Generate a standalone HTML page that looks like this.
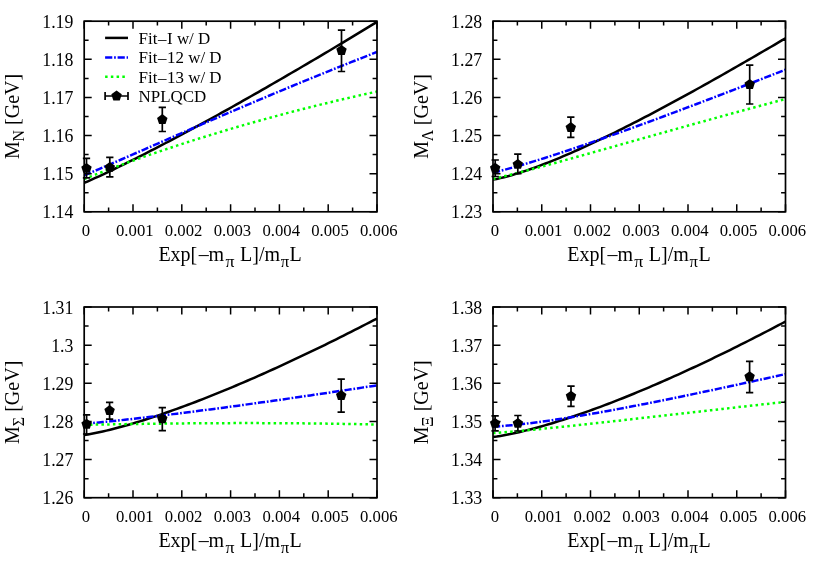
<!DOCTYPE html>
<html><head><meta charset="utf-8"><title>chart</title>
<style>html,body{margin:0;padding:0;background:#fff}svg{display:block;will-change:transform}text{font-family:"Liberation Serif", serif;fill:#000}.t{font-size:17.8px}.x{font-size:16.7px}.l{font-size:16.95px}.a{font-size:20.0px}.s{font-size:15.8px}</style></head><body>
<svg width="817" height="572" viewBox="0 0 817 572">
<rect width="817" height="572" fill="#fff"/>
<g>
<clipPath id="cN"><rect x="84.2" y="21.2" width="292.8" height="190.6"/></clipPath>
<g clip-path="url(#cN)" fill="none" stroke-width="2.5">
<path d="M84.2 182.87 L87.91 181.28 L91.61 179.64 L95.32 177.97 L99.03 176.27 L102.73 174.54 L106.44 172.8 L110.14 171.03 L113.85 169.25 L117.56 167.46 L121.26 165.65 L124.97 163.82 L128.68 161.99 L132.38 160.14 L136.09 158.27 L139.79 156.4 L143.5 154.52 L147.21 152.62 L150.91 150.72 L154.62 148.8 L158.33 146.88 L162.03 144.94 L165.74 143 L169.45 141.05 L173.15 139.09 L176.86 137.12 L180.56 135.14 L184.27 133.16 L187.98 131.17 L191.68 129.17 L195.39 127.16 L199.1 125.15 L202.8 123.13 L206.51 121.1 L210.22 119.06 L213.92 117.02 L217.63 114.97 L221.33 112.92 L225.04 110.86 L228.75 108.79 L232.45 106.72 L236.16 104.64 L239.87 102.56 L243.57 100.46 L247.28 98.37 L250.98 96.27 L254.69 94.16 L258.4 92.05 L262.1 89.93 L265.81 87.8 L269.52 85.67 L273.22 83.54 L276.93 81.4 L280.64 79.26 L284.34 77.11 L288.05 74.95 L291.75 72.79 L295.46 70.63 L299.17 68.46 L302.87 66.29 L306.58 64.11 L310.29 61.93 L313.99 59.74 L317.7 57.55 L321.41 55.36 L325.11 53.16 L328.82 50.95 L332.52 48.74 L336.23 46.53 L339.94 44.31 L343.64 42.09 L347.35 39.87 L351.06 37.64 L354.76 35.41 L358.47 33.17 L362.17 30.93 L365.88 28.68 L369.59 26.43 L373.29 24.18 L377 21.93" stroke="#000"/>
<path d="M84.2 175.33 L87.91 173.81 L91.61 172.25 L95.32 170.69 L99.03 169.11 L102.73 167.52 L106.44 165.92 L110.14 164.32 L113.85 162.71 L117.56 161.1 L121.26 159.49 L124.97 157.88 L128.68 156.26 L132.38 154.64 L136.09 153.02 L139.79 151.4 L143.5 149.78 L147.21 148.16 L150.91 146.53 L154.62 144.91 L158.33 143.29 L162.03 141.67 L165.74 140.05 L169.45 138.43 L173.15 136.82 L176.86 135.2 L180.56 133.58 L184.27 131.97 L187.98 130.36 L191.68 128.75 L195.39 127.14 L199.1 125.53 L202.8 123.93 L206.51 122.33 L210.22 120.73 L213.92 119.13 L217.63 117.53 L221.33 115.94 L225.04 114.35 L228.75 112.76 L232.45 111.18 L236.16 109.6 L239.87 108.02 L243.57 106.44 L247.28 104.87 L250.98 103.3 L254.69 101.73 L258.4 100.16 L262.1 98.6 L265.81 97.04 L269.52 95.49 L273.22 93.94 L276.93 92.39 L280.64 90.84 L284.34 89.3 L288.05 87.77 L291.75 86.23 L295.46 84.7 L299.17 83.17 L302.87 81.65 L306.58 80.13 L310.29 78.61 L313.99 77.1 L317.7 75.59 L321.41 74.09 L325.11 72.59 L328.82 71.09 L332.52 69.6 L336.23 68.11 L339.94 66.62 L343.64 65.14 L347.35 63.66 L351.06 62.19 L354.76 60.72 L358.47 59.26 L362.17 57.8 L365.88 56.34 L369.59 54.89 L373.29 53.44 L377 51.99" stroke="#0000ff" stroke-dasharray="7.2 1.8 1.7 1.8"/>
<path d="M84.2 179 L87.91 177.52 L91.61 176.06 L95.32 174.61 L99.03 173.19 L102.73 171.77 L106.44 170.37 L110.14 168.98 L113.85 167.6 L117.56 166.23 L121.26 164.87 L124.97 163.52 L128.68 162.19 L132.38 160.86 L136.09 159.54 L139.79 158.23 L143.5 156.94 L147.21 155.65 L150.91 154.37 L154.62 153.1 L158.33 151.84 L162.03 150.58 L165.74 149.34 L169.45 148.11 L173.15 146.88 L176.86 145.66 L180.56 144.45 L184.27 143.25 L187.98 142.06 L191.68 140.88 L195.39 139.7 L199.1 138.53 L202.8 137.37 L206.51 136.22 L210.22 135.08 L213.92 133.94 L217.63 132.82 L221.33 131.7 L225.04 130.59 L228.75 129.48 L232.45 128.39 L236.16 127.3 L239.87 126.22 L243.57 125.15 L247.28 124.09 L250.98 123.03 L254.69 121.98 L258.4 120.94 L262.1 119.91 L265.81 118.88 L269.52 117.86 L273.22 116.85 L276.93 115.85 L280.64 114.85 L284.34 113.87 L288.05 112.89 L291.75 111.91 L295.46 110.95 L299.17 109.99 L302.87 109.04 L306.58 108.1 L310.29 107.16 L313.99 106.23 L317.7 105.31 L321.41 104.4 L325.11 103.49 L328.82 102.59 L332.52 101.7 L336.23 100.81 L339.94 99.93 L343.64 99.06 L347.35 98.2 L351.06 97.35 L354.76 96.5 L358.47 95.65 L362.17 94.82 L365.88 93.99 L369.59 93.17 L373.29 92.36 L377 91.55" stroke="#00ff00" stroke-dasharray="2.5 3.24"/>
</g>
<path d="M84.2 211.8 v-7.5 M84.2 21.2 v7.5 M108.6 211.8 v-4.4 M108.6 21.2 v4.4 M133 211.8 v-7.5 M133 21.2 v7.5 M157.4 211.8 v-4.4 M157.4 21.2 v4.4 M181.8 211.8 v-7.5 M181.8 21.2 v7.5 M206.2 211.8 v-4.4 M206.2 21.2 v4.4 M230.6 211.8 v-7.5 M230.6 21.2 v7.5 M255 211.8 v-4.4 M255 21.2 v4.4 M279.4 211.8 v-7.5 M279.4 21.2 v7.5 M303.8 211.8 v-4.4 M303.8 21.2 v4.4 M328.2 211.8 v-7.5 M328.2 21.2 v7.5 M352.6 211.8 v-4.4 M352.6 21.2 v4.4 M377 211.8 v-7.5 M377 21.2 v7.5 M84.2 211.8 h7.5 M377 211.8 h-7.5 M84.2 192.74 h4.4 M377 192.74 h-4.4 M84.2 173.68 h7.5 M377 173.68 h-7.5 M84.2 154.62 h4.4 M377 154.62 h-4.4 M84.2 135.56 h7.5 M377 135.56 h-7.5 M84.2 116.5 h4.4 M377 116.5 h-4.4 M84.2 97.44 h7.5 M377 97.44 h-7.5 M84.2 78.38 h4.4 M377 78.38 h-4.4 M84.2 59.32 h7.5 M377 59.32 h-7.5 M84.2 40.26 h4.4 M377 40.26 h-4.4 M84.2 21.2 h7.5 M377 21.2 h-7.5" stroke="#000" stroke-width="1.5" fill="none"/>
<rect x="84.2" y="21.2" width="292.8" height="190.6" fill="none" stroke="#000" stroke-width="1.7"/>
<path d="M86.5 158.3 V177.9 M82.85 158.3 h7.3 M82.85 177.9 h7.3 M109.8 157.3 V176.9 M106.15 157.3 h7.3 M106.15 176.9 h7.3 M162.3 107.4 V131.5 M158.65 107.4 h7.3 M158.65 131.5 h7.3 M341.5 30.2 V71.5 M337.85 30.2 h7.3 M337.85 71.5 h7.3" stroke="#000" stroke-width="1.7" fill="none"/>
<polygon points="86.5,162.9 91.73,166.7 89.73,172.85 83.27,172.85 81.27,166.7" fill="#000"/>
<polygon points="109.8,161.9 115.03,165.7 113.03,171.85 106.57,171.85 104.57,165.7" fill="#000"/>
<polygon points="162.3,114.1 167.53,117.9 165.53,124.05 159.07,124.05 157.07,117.9" fill="#000"/>
<polygon points="341.5,45 346.73,48.8 344.73,54.95 338.27,54.95 336.27,48.8" fill="#000"/>
<text class="t" x="73.4" y="218.3" text-anchor="end">1.14</text>
<text class="t" x="73.4" y="180.18" text-anchor="end">1.15</text>
<text class="t" x="73.4" y="142.06" text-anchor="end">1.16</text>
<text class="t" x="73.4" y="103.94" text-anchor="end">1.17</text>
<text class="t" x="73.4" y="65.82" text-anchor="end">1.18</text>
<text class="t" x="73.4" y="27.7" text-anchor="end">1.19</text>
<text class="x" x="86" y="235.6" text-anchor="middle">0</text>
<text class="x" x="134.8" y="235.6" text-anchor="middle">0.001</text>
<text class="x" x="183.6" y="235.6" text-anchor="middle">0.002</text>
<text class="x" x="232.4" y="235.6" text-anchor="middle">0.003</text>
<text class="x" x="281.2" y="235.6" text-anchor="middle">0.004</text>
<text class="x" x="330" y="235.6" text-anchor="middle">0.005</text>
<text class="x" x="378.8" y="235.6" text-anchor="middle">0.006</text>
<text class="a" x="158.4" y="260.6">Exp[<tspan dx="1.5">–</tspan><tspan dx="-0.2">m</tspan></text>
<text class="s" x="225.4" y="267.1" textLength="9" lengthAdjust="spacingAndGlyphs">π</text>
<text class="a" x="240" y="260.6">L]/m</text>
<text class="s" x="280.8" y="267.1" textLength="8.4" lengthAdjust="spacingAndGlyphs">π</text>
<text class="a" x="289.6" y="260.6">L</text>
<g transform="translate(19.4 159.1) rotate(-90)">
<text class="a" x="0" y="0">M</text>
<text class="s" x="17.6" y="4.8">N</text>
<text class="a" x="34.2" y="0">[GeV]</text>
</g>
<g fill="none" stroke-width="2.5">
<path d="M105.1 37.9 H128" stroke="#000"/>
<path d="M105.1 57.4 H128" stroke="#0000ff" stroke-dasharray="7.2 1.8 1.7 1.8"/>
<path d="M105.1 76.8 H128" stroke="#00ff00" stroke-dasharray="2.5 3.24"/>
</g>
<path d="M105.1 96 H128 M105.1 92.1 v7.8 M128 92.1 v7.8" stroke="#000" stroke-width="1.7" fill="none"/>
<polygon points="116.55,90.5 121.78,94.3 119.78,100.45 113.32,100.45 111.32,94.3" fill="#000"/>
<text class="l" x="138.6" y="43.7">Fit<tspan dx="0.6">–</tspan><tspan dx="0.5">I</tspan> w/ D</text>
<text class="l" x="138.6" y="63.2">Fit<tspan dx="0.6">–</tspan><tspan dx="0.5">1</tspan>2 w/ D</text>
<text class="l" x="138.6" y="82.6">Fit<tspan dx="0.6">–</tspan><tspan dx="0.5">1</tspan>3 w/ D</text>
<text class="l" x="138.6" y="101.8">NPLQCD</text>
</g>
<g>
<clipPath id="cu039b"><rect x="493" y="21.2" width="292.5" height="190.6"/></clipPath>
<g clip-path="url(#cu039b)" fill="none" stroke-width="2.5">
<path d="M493 179.51 L496.7 178.91 L500.41 178.14 L504.11 177.25 L507.81 176.29 L511.51 175.25 L515.22 174.16 L518.92 173.01 L522.62 171.81 L526.32 170.56 L530.03 169.27 L533.73 167.95 L537.43 166.59 L541.13 165.2 L544.84 163.77 L548.54 162.31 L552.24 160.83 L555.94 159.32 L559.65 157.78 L563.35 156.22 L567.05 154.63 L570.75 153.03 L574.46 151.4 L578.16 149.75 L581.86 148.08 L585.56 146.39 L589.27 144.68 L592.97 142.95 L596.67 141.21 L600.37 139.45 L604.08 137.67 L607.78 135.88 L611.48 134.08 L615.18 132.26 L618.89 130.42 L622.59 128.57 L626.29 126.71 L629.99 124.84 L633.7 122.95 L637.4 121.05 L641.1 119.14 L644.8 117.22 L648.51 115.28 L652.21 113.34 L655.91 111.39 L659.61 109.42 L663.32 107.45 L667.02 105.46 L670.72 103.47 L674.42 101.47 L678.13 99.46 L681.83 97.44 L685.53 95.41 L689.23 93.38 L692.94 91.33 L696.64 89.28 L700.34 87.23 L704.04 85.16 L707.75 83.09 L711.45 81.01 L715.15 78.92 L718.85 76.83 L722.56 74.73 L726.26 72.63 L729.96 70.52 L733.66 68.4 L737.37 66.28 L741.07 64.15 L744.77 62.02 L748.47 59.89 L752.18 57.74 L755.88 55.6 L759.58 53.45 L763.28 51.29 L766.99 49.13 L770.69 46.97 L774.39 44.8 L778.09 42.63 L781.8 40.45 L785.5 38.27" stroke="#000"/>
<path d="M493 172.57 L496.7 171.74 L500.41 170.83 L504.11 169.88 L507.81 168.9 L511.51 167.89 L515.22 166.86 L518.92 165.8 L522.62 164.72 L526.32 163.63 L530.03 162.52 L533.73 161.39 L537.43 160.25 L541.13 159.1 L544.84 157.94 L548.54 156.76 L552.24 155.57 L555.94 154.37 L559.65 153.16 L563.35 151.94 L567.05 150.71 L570.75 149.48 L574.46 148.23 L578.16 146.98 L581.86 145.72 L585.56 144.45 L589.27 143.17 L592.97 141.89 L596.67 140.6 L600.37 139.3 L604.08 138 L607.78 136.69 L611.48 135.38 L615.18 134.06 L618.89 132.74 L622.59 131.41 L626.29 130.07 L629.99 128.74 L633.7 127.39 L637.4 126.04 L641.1 124.69 L644.8 123.34 L648.51 121.97 L652.21 120.61 L655.91 119.24 L659.61 117.87 L663.32 116.49 L667.02 115.11 L670.72 113.73 L674.42 112.35 L678.13 110.96 L681.83 109.57 L685.53 108.17 L689.23 106.77 L692.94 105.37 L696.64 103.97 L700.34 102.56 L704.04 101.16 L707.75 99.75 L711.45 98.33 L715.15 96.92 L718.85 95.5 L722.56 94.08 L726.26 92.66 L729.96 91.24 L733.66 89.81 L737.37 88.39 L741.07 86.96 L744.77 85.53 L748.47 84.1 L752.18 82.66 L755.88 81.23 L759.58 79.79 L763.28 78.35 L766.99 76.91 L770.69 75.47 L774.39 74.03 L778.09 72.59 L781.8 71.14 L785.5 69.7" stroke="#0000ff" stroke-dasharray="7.2 1.8 1.7 1.8"/>
<path d="M493 178.91 L496.7 178.09 L500.41 177.22 L504.11 176.33 L507.81 175.42 L511.51 174.49 L515.22 173.55 L518.92 172.6 L522.62 171.64 L526.32 170.67 L530.03 169.7 L533.73 168.71 L537.43 167.72 L541.13 166.73 L544.84 165.72 L548.54 164.72 L552.24 163.71 L555.94 162.69 L559.65 161.68 L563.35 160.65 L567.05 159.63 L570.75 158.6 L574.46 157.57 L578.16 156.54 L581.86 155.51 L585.56 154.47 L589.27 153.43 L592.97 152.4 L596.67 151.36 L600.37 150.31 L604.08 149.27 L607.78 148.23 L611.48 147.19 L615.18 146.14 L618.89 145.1 L622.59 144.05 L626.29 143.01 L629.99 141.96 L633.7 140.92 L637.4 139.87 L641.1 138.83 L644.8 137.78 L648.51 136.74 L652.21 135.7 L655.91 134.65 L659.61 133.61 L663.32 132.57 L667.02 131.53 L670.72 130.49 L674.42 129.45 L678.13 128.41 L681.83 127.37 L685.53 126.34 L689.23 125.3 L692.94 124.27 L696.64 123.24 L700.34 122.21 L704.04 121.18 L707.75 120.15 L711.45 119.13 L715.15 118.1 L718.85 117.08 L722.56 116.06 L726.26 115.04 L729.96 114.02 L733.66 113.01 L737.37 111.99 L741.07 110.98 L744.77 109.97 L748.47 108.97 L752.18 107.96 L755.88 106.96 L759.58 105.95 L763.28 104.96 L766.99 103.96 L770.69 102.96 L774.39 101.97 L778.09 100.98 L781.8 99.99 L785.5 99.01" stroke="#00ff00" stroke-dasharray="2.5 3.24"/>
</g>
<path d="M493 211.8 v-7.5 M493 21.2 v7.5 M517.38 211.8 v-4.4 M517.38 21.2 v4.4 M541.75 211.8 v-7.5 M541.75 21.2 v7.5 M566.12 211.8 v-4.4 M566.12 21.2 v4.4 M590.5 211.8 v-7.5 M590.5 21.2 v7.5 M614.88 211.8 v-4.4 M614.88 21.2 v4.4 M639.25 211.8 v-7.5 M639.25 21.2 v7.5 M663.62 211.8 v-4.4 M663.62 21.2 v4.4 M688 211.8 v-7.5 M688 21.2 v7.5 M712.38 211.8 v-4.4 M712.38 21.2 v4.4 M736.75 211.8 v-7.5 M736.75 21.2 v7.5 M761.12 211.8 v-4.4 M761.12 21.2 v4.4 M785.5 211.8 v-7.5 M785.5 21.2 v7.5 M493 211.8 h7.5 M785.5 211.8 h-7.5 M493 192.74 h4.4 M785.5 192.74 h-4.4 M493 173.68 h7.5 M785.5 173.68 h-7.5 M493 154.62 h4.4 M785.5 154.62 h-4.4 M493 135.56 h7.5 M785.5 135.56 h-7.5 M493 116.5 h4.4 M785.5 116.5 h-4.4 M493 97.44 h7.5 M785.5 97.44 h-7.5 M493 78.38 h4.4 M785.5 78.38 h-4.4 M493 59.32 h7.5 M785.5 59.32 h-7.5 M493 40.26 h4.4 M785.5 40.26 h-4.4 M493 21.2 h7.5 M785.5 21.2 h-7.5" stroke="#000" stroke-width="1.5" fill="none"/>
<rect x="493" y="21.2" width="292.5" height="190.6" fill="none" stroke="#000" stroke-width="1.7"/>
<path d="M495.2 160 V176.5 M491.55 160 h7.3 M491.55 176.5 h7.3 M517.8 154.1 V173.7 M514.15 154.1 h7.3 M514.15 173.7 h7.3 M570.8 117.2 V137.4 M567.15 117.2 h7.3 M567.15 137.4 h7.3 M749.7 65.2 V104 M746.05 65.2 h7.3 M746.05 104 h7.3" stroke="#000" stroke-width="1.7" fill="none"/>
<polygon points="495.2,162.7 500.43,166.5 498.43,172.65 491.97,172.65 489.97,166.5" fill="#000"/>
<polygon points="517.8,158.9 523.03,162.7 521.03,168.85 514.57,168.85 512.57,162.7" fill="#000"/>
<polygon points="570.8,122.1 576.03,125.9 574.03,132.05 567.57,132.05 565.57,125.9" fill="#000"/>
<polygon points="749.7,79 754.93,82.8 752.93,88.95 746.47,88.95 744.47,82.8" fill="#000"/>
<text class="t" x="482.2" y="218.3" text-anchor="end">1.23</text>
<text class="t" x="482.2" y="180.18" text-anchor="end">1.24</text>
<text class="t" x="482.2" y="142.06" text-anchor="end">1.25</text>
<text class="t" x="482.2" y="103.94" text-anchor="end">1.26</text>
<text class="t" x="482.2" y="65.82" text-anchor="end">1.27</text>
<text class="t" x="482.2" y="27.7" text-anchor="end">1.28</text>
<text class="x" x="494.8" y="235.6" text-anchor="middle">0</text>
<text class="x" x="543.55" y="235.6" text-anchor="middle">0.001</text>
<text class="x" x="592.3" y="235.6" text-anchor="middle">0.002</text>
<text class="x" x="641.05" y="235.6" text-anchor="middle">0.003</text>
<text class="x" x="689.8" y="235.6" text-anchor="middle">0.004</text>
<text class="x" x="738.55" y="235.6" text-anchor="middle">0.005</text>
<text class="x" x="787.3" y="235.6" text-anchor="middle">0.006</text>
<text class="a" x="567.2" y="260.6">Exp[<tspan dx="1.5">–</tspan><tspan dx="-0.2">m</tspan></text>
<text class="s" x="634.2" y="267.1" textLength="9" lengthAdjust="spacingAndGlyphs">π</text>
<text class="a" x="648.8" y="260.6">L]/m</text>
<text class="s" x="689.6" y="267.1" textLength="8.4" lengthAdjust="spacingAndGlyphs">π</text>
<text class="a" x="698.4" y="260.6">L</text>
<g transform="translate(428.2 158.8) rotate(-90)">
<text class="a" x="0" y="0">M</text>
<text class="s" x="17.6" y="4.8">Λ</text>
<text class="a" x="33.6" y="0">[GeV]</text>
</g>
</g>
<g>
<clipPath id="cu03a3"><rect x="84.2" y="307" width="292.8" height="190.7"/></clipPath>
<g clip-path="url(#cu03a3)" fill="none" stroke-width="2.5">
<path d="M84.2 435.03 L87.91 434.49 L91.61 433.83 L95.32 433.1 L99.03 432.32 L102.73 431.49 L106.44 430.62 L110.14 429.71 L113.85 428.77 L117.56 427.79 L121.26 426.78 L124.97 425.75 L128.68 424.69 L132.38 423.6 L136.09 422.48 L139.79 421.35 L143.5 420.19 L147.21 419.01 L150.91 417.81 L154.62 416.59 L158.33 415.34 L162.03 414.08 L165.74 412.8 L169.45 411.51 L173.15 410.19 L176.86 408.86 L180.56 407.51 L184.27 406.15 L187.98 404.77 L191.68 403.37 L195.39 401.96 L199.1 400.53 L202.8 399.09 L206.51 397.64 L210.22 396.17 L213.92 394.68 L217.63 393.19 L221.33 391.68 L225.04 390.15 L228.75 388.62 L232.45 387.07 L236.16 385.51 L239.87 383.94 L243.57 382.35 L247.28 380.75 L250.98 379.15 L254.69 377.53 L258.4 375.89 L262.1 374.25 L265.81 372.6 L269.52 370.93 L273.22 369.26 L276.93 367.57 L280.64 365.88 L284.34 364.17 L288.05 362.45 L291.75 360.73 L295.46 358.99 L299.17 357.24 L302.87 355.49 L306.58 353.72 L310.29 351.95 L313.99 350.16 L317.7 348.37 L321.41 346.57 L325.11 344.76 L328.82 342.94 L332.52 341.11 L336.23 339.27 L339.94 337.42 L343.64 335.57 L347.35 333.7 L351.06 331.83 L354.76 329.95 L358.47 328.06 L362.17 326.16 L365.88 324.26 L369.59 322.34 L373.29 320.42 L377 318.49" stroke="#000"/>
<path d="M84.2 423.75 L87.91 423.44 L91.61 423.12 L95.32 422.78 L99.03 422.43 L102.73 422.07 L106.44 421.71 L110.14 421.33 L113.85 420.95 L117.56 420.56 L121.26 420.16 L124.97 419.76 L128.68 419.36 L132.38 418.94 L136.09 418.53 L139.79 418.1 L143.5 417.68 L147.21 417.25 L150.91 416.81 L154.62 416.37 L158.33 415.93 L162.03 415.49 L165.74 415.04 L169.45 414.58 L173.15 414.13 L176.86 413.67 L180.56 413.2 L184.27 412.74 L187.98 412.27 L191.68 411.79 L195.39 411.32 L199.1 410.84 L202.8 410.36 L206.51 409.87 L210.22 409.39 L213.92 408.9 L217.63 408.41 L221.33 407.91 L225.04 407.41 L228.75 406.91 L232.45 406.41 L236.16 405.91 L239.87 405.4 L243.57 404.89 L247.28 404.38 L250.98 403.87 L254.69 403.36 L258.4 402.84 L262.1 402.32 L265.81 401.8 L269.52 401.28 L273.22 400.75 L276.93 400.22 L280.64 399.69 L284.34 399.16 L288.05 398.63 L291.75 398.1 L295.46 397.56 L299.17 397.02 L302.87 396.48 L306.58 395.94 L310.29 395.4 L313.99 394.85 L317.7 394.31 L321.41 393.76 L325.11 393.21 L328.82 392.66 L332.52 392.1 L336.23 391.55 L339.94 390.99 L343.64 390.44 L347.35 389.88 L351.06 389.32 L354.76 388.76 L358.47 388.19 L362.17 387.63 L365.88 387.06 L369.59 386.49 L373.29 385.92 L377 385.35" stroke="#0000ff" stroke-dasharray="7.2 1.8 1.7 1.8"/>
<path d="M84.2 424.8 L87.91 424.74 L91.61 424.69 L95.32 424.63 L99.03 424.57 L102.73 424.51 L106.44 424.44 L110.14 424.38 L113.85 424.32 L117.56 424.26 L121.26 424.2 L124.97 424.14 L128.68 424.09 L132.38 424.03 L136.09 423.98 L139.79 423.92 L143.5 423.87 L147.21 423.82 L150.91 423.77 L154.62 423.72 L158.33 423.67 L162.03 423.63 L165.74 423.59 L169.45 423.54 L173.15 423.5 L176.86 423.47 L180.56 423.43 L184.27 423.4 L187.98 423.36 L191.68 423.33 L195.39 423.3 L199.1 423.28 L202.8 423.25 L206.51 423.23 L210.22 423.21 L213.92 423.19 L217.63 423.17 L221.33 423.16 L225.04 423.14 L228.75 423.13 L232.45 423.12 L236.16 423.11 L239.87 423.11 L243.57 423.11 L247.28 423.11 L250.98 423.11 L254.69 423.11 L258.4 423.12 L262.1 423.13 L265.81 423.14 L269.52 423.15 L273.22 423.16 L276.93 423.18 L280.64 423.2 L284.34 423.22 L288.05 423.25 L291.75 423.27 L295.46 423.3 L299.17 423.33 L302.87 423.36 L306.58 423.4 L310.29 423.44 L313.99 423.48 L317.7 423.52 L321.41 423.56 L325.11 423.61 L328.82 423.66 L332.52 423.71 L336.23 423.76 L339.94 423.82 L343.64 423.88 L347.35 423.94 L351.06 424 L354.76 424.07 L358.47 424.14 L362.17 424.21 L365.88 424.28 L369.59 424.35 L373.29 424.43 L377 424.51" stroke="#00ff00" stroke-dasharray="2.5 3.24"/>
</g>
<path d="M84.2 497.7 v-7.5 M84.2 307 v7.5 M108.6 497.7 v-4.4 M108.6 307 v4.4 M133 497.7 v-7.5 M133 307 v7.5 M157.4 497.7 v-4.4 M157.4 307 v4.4 M181.8 497.7 v-7.5 M181.8 307 v7.5 M206.2 497.7 v-4.4 M206.2 307 v4.4 M230.6 497.7 v-7.5 M230.6 307 v7.5 M255 497.7 v-4.4 M255 307 v4.4 M279.4 497.7 v-7.5 M279.4 307 v7.5 M303.8 497.7 v-4.4 M303.8 307 v4.4 M328.2 497.7 v-7.5 M328.2 307 v7.5 M352.6 497.7 v-4.4 M352.6 307 v4.4 M377 497.7 v-7.5 M377 307 v7.5 M84.2 497.7 h7.5 M377 497.7 h-7.5 M84.2 478.63 h4.4 M377 478.63 h-4.4 M84.2 459.56 h7.5 M377 459.56 h-7.5 M84.2 440.49 h4.4 M377 440.49 h-4.4 M84.2 421.42 h7.5 M377 421.42 h-7.5 M84.2 402.35 h4.4 M377 402.35 h-4.4 M84.2 383.28 h7.5 M377 383.28 h-7.5 M84.2 364.21 h4.4 M377 364.21 h-4.4 M84.2 345.14 h7.5 M377 345.14 h-7.5 M84.2 326.07 h4.4 M377 326.07 h-4.4 M84.2 307 h7.5 M377 307 h-7.5" stroke="#000" stroke-width="1.5" fill="none"/>
<rect x="84.2" y="307" width="292.8" height="190.7" fill="none" stroke="#000" stroke-width="1.7"/>
<path d="M86.6 414.8 V434 M82.95 414.8 h7.3 M82.95 434 h7.3 M109.6 402.3 V419.2 M105.95 402.3 h7.3 M105.95 419.2 h7.3 M162.3 407.6 V430.6 M158.65 407.6 h7.3 M158.65 430.6 h7.3 M341.2 379.1 V412.2 M337.55 379.1 h7.3 M337.55 412.2 h7.3" stroke="#000" stroke-width="1.7" fill="none"/>
<polygon points="86.6,418.8 91.83,422.6 89.83,428.75 83.37,428.75 81.37,422.6" fill="#000"/>
<polygon points="109.6,405.1 114.83,408.9 112.83,415.05 106.37,415.05 104.37,408.9" fill="#000"/>
<polygon points="162.3,413.2 167.53,417 165.53,423.15 159.07,423.15 157.07,417" fill="#000"/>
<polygon points="341.2,390.1 346.43,393.9 344.43,400.05 337.97,400.05 335.97,393.9" fill="#000"/>
<text class="t" x="73.4" y="504.2" text-anchor="end">1.26</text>
<text class="t" x="73.4" y="466.06" text-anchor="end">1.27</text>
<text class="t" x="73.4" y="427.92" text-anchor="end">1.28</text>
<text class="t" x="73.4" y="389.78" text-anchor="end">1.29</text>
<text class="t" x="73.4" y="351.64" text-anchor="end">1.3</text>
<text class="t" x="73.4" y="313.5" text-anchor="end">1.31</text>
<text class="x" x="86" y="521.5" text-anchor="middle">0</text>
<text class="x" x="134.8" y="521.5" text-anchor="middle">0.001</text>
<text class="x" x="183.6" y="521.5" text-anchor="middle">0.002</text>
<text class="x" x="232.4" y="521.5" text-anchor="middle">0.003</text>
<text class="x" x="281.2" y="521.5" text-anchor="middle">0.004</text>
<text class="x" x="330" y="521.5" text-anchor="middle">0.005</text>
<text class="x" x="378.8" y="521.5" text-anchor="middle">0.006</text>
<text class="a" x="158.4" y="546.5">Exp[<tspan dx="1.5">–</tspan><tspan dx="-0.2">m</tspan></text>
<text class="s" x="225.4" y="553" textLength="9" lengthAdjust="spacingAndGlyphs">π</text>
<text class="a" x="240" y="546.5">L]/m</text>
<text class="s" x="280.8" y="553" textLength="8.4" lengthAdjust="spacingAndGlyphs">π</text>
<text class="a" x="289.6" y="546.5">L</text>
<g transform="translate(19.4 443.93) rotate(-90)">
<text class="a" x="0" y="0">M</text>
<text class="s" x="17.6" y="4.8">Σ</text>
<text class="a" x="32.15" y="0">[GeV]</text>
</g>
</g>
<g>
<clipPath id="cu039e"><rect x="493" y="307" width="292.5" height="190.7"/></clipPath>
<g clip-path="url(#cu039e)" fill="none" stroke-width="2.5">
<path d="M493 436.93 L496.7 436.48 L500.41 435.92 L504.11 435.28 L507.81 434.58 L511.51 433.83 L515.22 433.03 L518.92 432.19 L522.62 431.31 L526.32 430.4 L530.03 429.45 L533.73 428.48 L537.43 427.47 L541.13 426.44 L544.84 425.38 L548.54 424.29 L552.24 423.18 L555.94 422.04 L559.65 420.88 L563.35 419.7 L567.05 418.5 L570.75 417.28 L574.46 416.03 L578.16 414.77 L581.86 413.49 L585.56 412.18 L589.27 410.86 L592.97 409.53 L596.67 408.17 L600.37 406.8 L604.08 405.41 L607.78 404 L611.48 402.58 L615.18 401.14 L618.89 399.69 L622.59 398.22 L626.29 396.74 L629.99 395.24 L633.7 393.73 L637.4 392.2 L641.1 390.66 L644.8 389.11 L648.51 387.54 L652.21 385.96 L655.91 384.37 L659.61 382.76 L663.32 381.14 L667.02 379.51 L670.72 377.87 L674.42 376.21 L678.13 374.54 L681.83 372.86 L685.53 371.17 L689.23 369.47 L692.94 367.75 L696.64 366.03 L700.34 364.29 L704.04 362.54 L707.75 360.78 L711.45 359.01 L715.15 357.23 L718.85 355.44 L722.56 353.64 L726.26 351.83 L729.96 350.01 L733.66 348.17 L737.37 346.33 L741.07 344.48 L744.77 342.62 L748.47 340.75 L752.18 338.87 L755.88 336.98 L759.58 335.08 L763.28 333.17 L766.99 331.25 L770.69 329.33 L774.39 327.39 L778.09 325.45 L781.8 323.49 L785.5 321.53" stroke="#000"/>
<path d="M493 426.59 L496.7 426.44 L500.41 426.21 L504.11 425.93 L507.81 425.62 L511.51 425.27 L515.22 424.9 L518.92 424.51 L522.62 424.09 L526.32 423.65 L530.03 423.2 L533.73 422.73 L537.43 422.24 L541.13 421.74 L544.84 421.23 L548.54 420.7 L552.24 420.16 L555.94 419.61 L559.65 419.05 L563.35 418.47 L567.05 417.89 L570.75 417.3 L574.46 416.7 L578.16 416.09 L581.86 415.47 L585.56 414.84 L589.27 414.2 L592.97 413.56 L596.67 412.91 L600.37 412.26 L604.08 411.59 L607.78 410.92 L611.48 410.25 L615.18 409.56 L618.89 408.87 L622.59 408.18 L626.29 407.48 L629.99 406.78 L633.7 406.07 L637.4 405.35 L641.1 404.63 L644.8 403.91 L648.51 403.18 L652.21 402.45 L655.91 401.71 L659.61 400.97 L663.32 400.22 L667.02 399.48 L670.72 398.72 L674.42 397.97 L678.13 397.21 L681.83 396.44 L685.53 395.68 L689.23 394.91 L692.94 394.14 L696.64 393.36 L700.34 392.58 L704.04 391.8 L707.75 391.02 L711.45 390.23 L715.15 389.44 L718.85 388.65 L722.56 387.86 L726.26 387.06 L729.96 386.26 L733.66 385.46 L737.37 384.66 L741.07 383.86 L744.77 383.05 L748.47 382.24 L752.18 381.43 L755.88 380.62 L759.58 379.81 L763.28 378.99 L766.99 378.18 L770.69 377.36 L774.39 376.54 L778.09 375.72 L781.8 374.9 L785.5 374.08" stroke="#0000ff" stroke-dasharray="7.2 1.8 1.7 1.8"/>
<path d="M493 433.09 L496.7 432.86 L500.41 432.59 L504.11 432.3 L507.81 432 L511.51 431.69 L515.22 431.37 L518.92 431.04 L522.62 430.71 L526.32 430.36 L530.03 430.01 L533.73 429.66 L537.43 429.3 L541.13 428.94 L544.84 428.57 L548.54 428.2 L552.24 427.82 L555.94 427.44 L559.65 427.06 L563.35 426.67 L567.05 426.29 L570.75 425.9 L574.46 425.5 L578.16 425.11 L581.86 424.71 L585.56 424.31 L589.27 423.91 L592.97 423.51 L596.67 423.1 L600.37 422.69 L604.08 422.29 L607.78 421.88 L611.48 421.47 L615.18 421.06 L618.89 420.64 L622.59 420.23 L626.29 419.82 L629.99 419.4 L633.7 418.98 L637.4 418.57 L641.1 418.15 L644.8 417.73 L648.51 417.31 L652.21 416.89 L655.91 416.47 L659.61 416.05 L663.32 415.63 L667.02 415.21 L670.72 414.79 L674.42 414.37 L678.13 413.95 L681.83 413.53 L685.53 413.11 L689.23 412.69 L692.94 412.27 L696.64 411.85 L700.34 411.43 L704.04 411 L707.75 410.58 L711.45 410.16 L715.15 409.74 L718.85 409.32 L722.56 408.9 L726.26 408.49 L729.96 408.07 L733.66 407.65 L737.37 407.23 L741.07 406.81 L744.77 406.4 L748.47 405.98 L752.18 405.57 L755.88 405.15 L759.58 404.74 L763.28 404.32 L766.99 403.91 L770.69 403.5 L774.39 403.09 L778.09 402.68 L781.8 402.27 L785.5 401.86" stroke="#00ff00" stroke-dasharray="2.5 3.24"/>
</g>
<path d="M493 497.7 v-7.5 M493 307 v7.5 M517.38 497.7 v-4.4 M517.38 307 v4.4 M541.75 497.7 v-7.5 M541.75 307 v7.5 M566.12 497.7 v-4.4 M566.12 307 v4.4 M590.5 497.7 v-7.5 M590.5 307 v7.5 M614.88 497.7 v-4.4 M614.88 307 v4.4 M639.25 497.7 v-7.5 M639.25 307 v7.5 M663.62 497.7 v-4.4 M663.62 307 v4.4 M688 497.7 v-7.5 M688 307 v7.5 M712.38 497.7 v-4.4 M712.38 307 v4.4 M736.75 497.7 v-7.5 M736.75 307 v7.5 M761.12 497.7 v-4.4 M761.12 307 v4.4 M785.5 497.7 v-7.5 M785.5 307 v7.5 M493 497.7 h7.5 M785.5 497.7 h-7.5 M493 478.63 h4.4 M785.5 478.63 h-4.4 M493 459.56 h7.5 M785.5 459.56 h-7.5 M493 440.49 h4.4 M785.5 440.49 h-4.4 M493 421.42 h7.5 M785.5 421.42 h-7.5 M493 402.35 h4.4 M785.5 402.35 h-4.4 M493 383.28 h7.5 M785.5 383.28 h-7.5 M493 364.21 h4.4 M785.5 364.21 h-4.4 M493 345.14 h7.5 M785.5 345.14 h-7.5 M493 326.07 h4.4 M785.5 326.07 h-4.4 M493 307 h7.5 M785.5 307 h-7.5" stroke="#000" stroke-width="1.5" fill="none"/>
<rect x="493" y="307" width="292.5" height="190.7" fill="none" stroke="#000" stroke-width="1.7"/>
<path d="M495.1 415.9 V430.9 M491.45 415.9 h7.3 M491.45 430.9 h7.3 M517.9 415.5 V431 M514.25 415.5 h7.3 M514.25 431 h7.3 M571 386.1 V406.4 M567.35 386.1 h7.3 M567.35 406.4 h7.3 M749.6 361.3 V392.6 M745.95 361.3 h7.3 M745.95 392.6 h7.3" stroke="#000" stroke-width="1.7" fill="none"/>
<polygon points="495.1,417.9 500.33,421.7 498.33,427.85 491.87,427.85 489.87,421.7" fill="#000"/>
<polygon points="517.9,417.9 523.13,421.7 521.13,427.85 514.67,427.85 512.67,421.7" fill="#000"/>
<polygon points="571,390.8 576.23,394.6 574.23,400.75 567.77,400.75 565.77,394.6" fill="#000"/>
<polygon points="749.6,371.3 754.83,375.1 752.83,381.25 746.37,381.25 744.37,375.1" fill="#000"/>
<text class="t" x="482.2" y="504.2" text-anchor="end">1.33</text>
<text class="t" x="482.2" y="466.06" text-anchor="end">1.34</text>
<text class="t" x="482.2" y="427.92" text-anchor="end">1.35</text>
<text class="t" x="482.2" y="389.78" text-anchor="end">1.36</text>
<text class="t" x="482.2" y="351.64" text-anchor="end">1.37</text>
<text class="t" x="482.2" y="313.5" text-anchor="end">1.38</text>
<text class="x" x="494.8" y="521.5" text-anchor="middle">0</text>
<text class="x" x="543.55" y="521.5" text-anchor="middle">0.001</text>
<text class="x" x="592.3" y="521.5" text-anchor="middle">0.002</text>
<text class="x" x="641.05" y="521.5" text-anchor="middle">0.003</text>
<text class="x" x="689.8" y="521.5" text-anchor="middle">0.004</text>
<text class="x" x="738.55" y="521.5" text-anchor="middle">0.005</text>
<text class="x" x="787.3" y="521.5" text-anchor="middle">0.006</text>
<text class="a" x="567.2" y="546.5">Exp[<tspan dx="1.5">–</tspan><tspan dx="-0.2">m</tspan></text>
<text class="s" x="634.2" y="553" textLength="9" lengthAdjust="spacingAndGlyphs">π</text>
<text class="a" x="648.8" y="546.5">L]/m</text>
<text class="s" x="689.6" y="553" textLength="8.4" lengthAdjust="spacingAndGlyphs">π</text>
<text class="a" x="698.4" y="546.5">L</text>
<g transform="translate(428.2 444.35) rotate(-90)">
<text class="a" x="0" y="0">M</text>
<text class="s" x="17.6" y="4.8">Ξ</text>
<text class="a" x="33" y="0">[GeV]</text>
</g>
</g>
</svg></body></html>
